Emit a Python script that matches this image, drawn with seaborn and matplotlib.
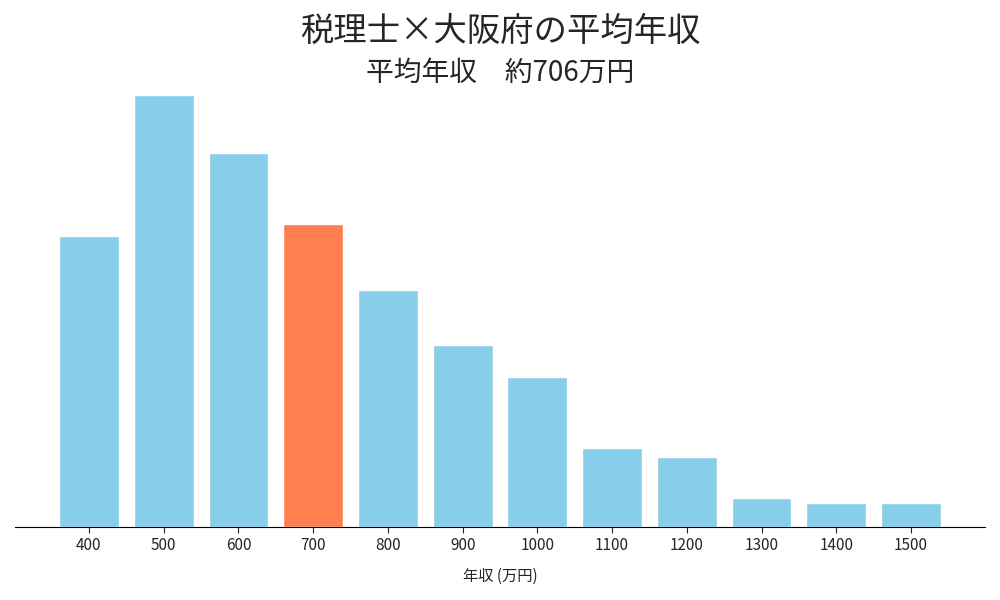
import matplotlib
matplotlib.use("Agg")
import matplotlib.pyplot as plt
import seaborn as sns
import pandas as pd

categories = ["400","500","600","700","800","900","1000","1100","1200","1300","1400","1500"]
values = [291, 432, 374, 303, 237, 182, 150, 79, 70, 29, 24, 24]
highlight = "700"
title1 = "税理士×大阪府の平均年収"
title2 = "平均年収　約706万円"

sns.set_style("white")
plt.rcParams['font.family'] = ['Noto Sans CJK JP', 'DejaVu Sans']

df = pd.DataFrame({"cat": categories, "val": values})
palette = {c: ("#FF7F50" if c == highlight else "#87CEEB") for c in categories}

fig = plt.figure(figsize=(10, 6), dpi=100)
ax = fig.add_axes([0.015, 0.1217, 0.97, 0.7566])
sns.barplot(data=df, x="cat", y="val", hue="cat", palette=palette, legend=False,
            width=0.8, saturation=1, ax=ax)
ax.set_xlim(-0.99, len(categories) - 0.01)
ax.set_ylim(0, max(values) * 1.05)
ax.set_yticks([])
ax.set_ylabel("")
ax.set_xlabel("年収 (万円)", fontsize=11, labelpad=10)
ax.tick_params(axis="x", labelsize=11, length=4, bottom=True)
for s in ["left", "top", "right"]:
    ax.spines[s].set_visible(False)
ax.spines["bottom"].set_color("black")
fig.text(0.5, 0.948, title1, ha="center", va="center", fontsize=24)
fig.text(0.5, 0.878, title2, ha="center", va="center", fontsize=20)
fig.savefig("out.png", dpi=100)
